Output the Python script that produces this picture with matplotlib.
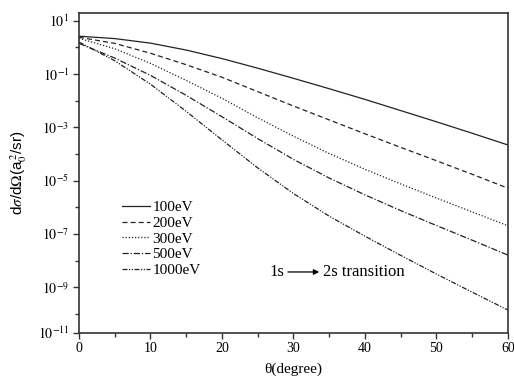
import numpy as np
import matplotlib
matplotlib.use('Agg')
import matplotlib.pyplot as plt

plt.rcParams['font.family'] = ['Liberation Serif', 'DejaVu Serif']
plt.rcParams['mathtext.fontset'] = 'stix'

theta = [0, 5, 10, 15, 20, 25, 30, 35, 40, 45, 50, 55, 60]
# log10 of dsigma/dOmega
log_100 = [0.42, 0.33, 0.16, -0.10, -0.42, -0.78, -1.16, -1.55, -1.95, -2.37, -2.79, -3.22, -3.66]
log_200 = [0.38, 0.15, -0.22, -0.65, -1.12, -1.66, -2.20, -2.72, -3.24, -3.75, -4.25, -4.76, -5.28]
log_300 = [0.34, -0.05, -0.60, -1.24, -1.91, -2.64, -3.33, -3.98, -4.57, -5.12, -5.65, -6.17, -6.69]
log_500 = [0.15, -0.40, -1.05, -1.80, -2.60, -3.42, -4.20, -4.90, -5.53, -6.12, -6.68, -7.23, -7.79]
log_1000 = [0.20, -0.50, -1.38, -2.40, -3.47, -4.52, -5.48, -6.33, -7.08, -7.80, -8.50, -9.18, -9.85]

series = [
    ('100eV', log_100, '-'),
    ('200eV', log_200, (0, (4, 2.5))),
    ('300eV', log_300, (0, (1, 1.5))),
    ('500eV', log_500, (0, (5, 1.5, 1, 1.5))),
    ('1000eV', log_1000, (0, (4, 1.2, 1, 1.2, 1, 1.2))),
]

fig = plt.figure(figsize=(5.14, 3.82), dpi=100)
ax = fig.add_axes([0.1537, 0.129, 0.8346, 0.837])

for label, vals, ls in series:
    ax.semilogy(theta, 10 ** np.array(vals), linestyle=ls, color='#222222',
                lw=0.9, label=label)

ymin, ymax = 2e-11, 19.5
ax.set_xlim(0, 60)
ax.set_ylim(ymin, ymax)

ax.set_xticks(range(0, 61, 10))
ax.set_xticks(range(5, 60, 10), minor=True)
ypos = [ymin] + [10.0 ** e for e in range(-9, 2, 2)]
ylabs = [r'$10^{-11}$'] + [r'$10^{%d}$' % e for e in range(-9, 2, 2)]
ax.set_yticks(ypos)
ax.set_yticklabels(ylabs)
ax.set_yticks([10.0 ** e for e in range(-10, 1, 2)], minor=True)
ax.yaxis.set_minor_formatter(matplotlib.ticker.NullFormatter())

ax.tick_params(which='both', direction='out', top=False, right=False,
               labelsize=10, color='#333333', width=1.0)
ax.tick_params(which='major', length=4, pad=3)
ax.tick_params(which='minor', length=3)
for sp in ax.spines.values():
    sp.set_linewidth(1.2)
    sp.set_color('#333333')

ax.set_xlabel('θ(degree)', fontsize=11, labelpad=5)
ax.set_ylabel(r'd$\sigma$/d$\Omega$(a$_0^{\,2}$/sr)', fontsize=11,
              family=['Liberation Sans', 'DejaVu Sans'], labelpad=6)

ax.legend(loc='upper left', bbox_to_anchor=(0.087, 0.432), frameon=False,
          fontsize=11, handlelength=1.8, handletextpad=0.15,
          labelspacing=0.13, borderaxespad=0)

ax.text(0.445, 0.19, '1s', transform=ax.transAxes, fontsize=12,
        va='center', ha='left')
ax.annotate('', xy=(0.56, 0.19), xytext=(0.487, 0.19),
            xycoords='axes fraction',
            arrowprops=dict(arrowstyle='-|>', color='black', lw=0.9,
                            mutation_scale=8, shrinkA=0, shrinkB=0))
ax.text(0.568, 0.19, '2s transition', transform=ax.transAxes, fontsize=12,
        va='center', ha='left')

fig.savefig('out.png', dpi=100)
